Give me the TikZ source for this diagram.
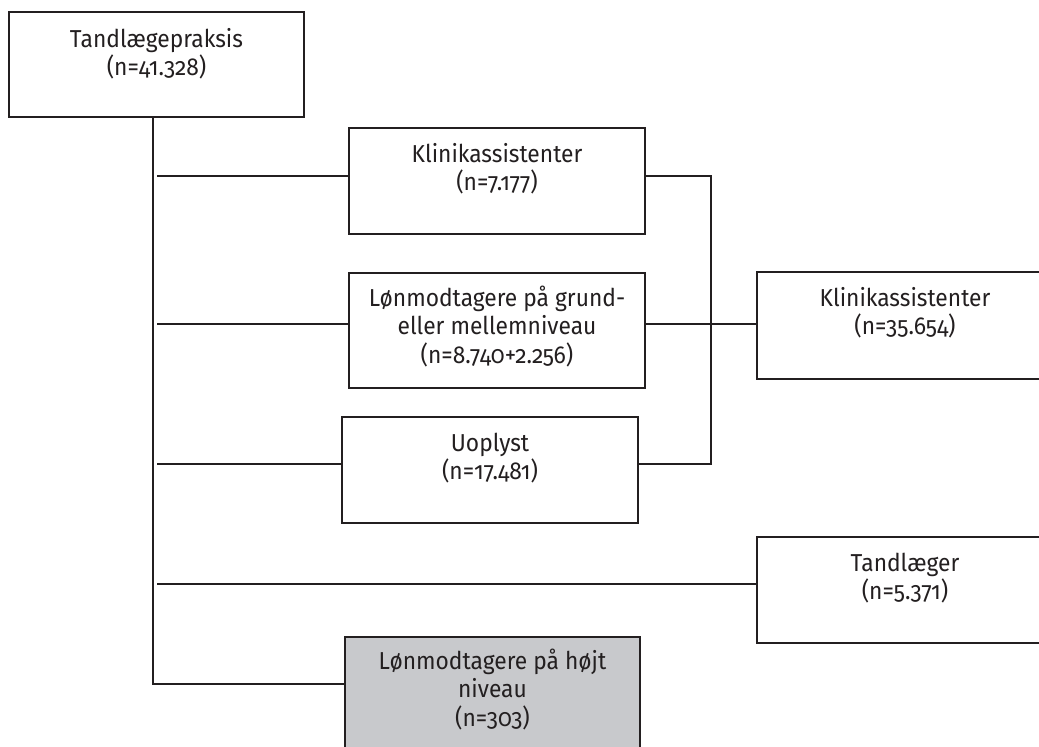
\documentclass[tikz,border=0pt]{standalone}
\usepackage{fontspec}
\setmainfont{Fira Sans}[Numbers=OldStyle, FakeStretch=0.93]
\usetikzlibrary{calc}
\definecolor{linec}{HTML}{231F20}
\definecolor{textc}{HTML}{231F20}
\definecolor{grayfill}{HTML}{C8C9CC}
\newcommand\firstline{\rule{0pt}{21pt}}
\tikzset{
  box/.style={draw=linec, line width=1.8pt, inner sep=0pt, fill=white},
  graybox/.style={box, fill=grayfill},
  lbl/.style={anchor=north, align=center, inner sep=0pt, font=\fontsize{24.5}{28.5}\selectfont, text=textc},
  conn/.style={draw=linec, line width=1.8pt},
}
\begin{document}
\begin{tikzpicture}[x=1pt,y=-1pt]
\useasboundingbox (0,0) rectangle (1039,747);
\clip (0,0) rectangle (1039,747);
% boxes
\node[box, minimum width=295pt, minimum height=105pt] (tp) at (156.5,64.5) {};
\node[box, minimum width=296pt, minimum height=106pt] (k1) at (497,181) {};
\node[box, minimum width=296pt, minimum height=115pt] (l1) at (497,330.5) {};
\node[box, minimum width=296pt, minimum height=106pt] (u1) at (490,470) {};
\node[graybox, minimum width=295pt, minimum height=115pt] (g1) at (492.5,694.5) {};
\node[box, minimum width=296pt, minimum height=107pt] (k2) at (905,325.5) {};
\node[box, minimum width=296pt, minimum height=106pt] (t2) at (905,590) {};
% labels
\node[lbl] (tpt) at ($(tp.north)+(0,15)$) {\firstline Tandlægepraksis\\(n=41.328)};
\node[lbl] (k1t) at ($(k1.north)+(0,14)$) {\firstline Klinikassistenter\\(n=7.177)};
\node[lbl] (l1t) at ($(l1.north)+(0,13)$) {\firstline Lønmodtagere på grund-\\eller mellemniveau\\(n=8.740+2.256)};
\node[lbl] (u1t) at ($(u1.north)+(0,14)$) {\firstline Uoplyst\\(n=17.481)};
\node[lbl] (g1t) at ($(g1.north)+(0,12)$) {\firstline Lønmodtagere på højt\\niveau\\(n=303)};
\node[lbl] (k2t) at ($(k2.north)+(0,14)$) {\firstline Klinikassistenter\\(n=35.654)};
\node[lbl] (t2t) at ($(t2.north)+(0,14)$) {\firstline Tandlæger\\(n=5.371)};
% connector points
\coordinate (tr) at ($(tp.south)+(-3.5,0)$);
\coordinate (bk1) at ($(k1.west)+(0,-5)$);
\coordinate (bl1) at ($(l1.west)+(0,-6.5)$);
\coordinate (bu1) at ($(u1.west)+(0,-6)$);
\coordinate (bt2) at ($(t2.west)+(0,-6)$);
\coordinate (bg1) at ($(g1.west)+(0,-10.5)$);
\coordinate (ek1) at ($(k1.east)+(0,-5)$);
\coordinate (el1) at ($(l1.east)+(0,-6.5)$);
\coordinate (eu1) at ($(u1.east)+(0,-6)$);
\coordinate (wk2) at (k2.west |- el1);
% trunk and branches
\draw[conn] (tr) |- (bg1);
\foreach \b in {bk1,bl1,bu1,bt2} \draw[conn] ($(tr |- \b)+(4,0)$) -- (\b);
% bracket
\draw[conn] (ek1) -- ++(65,0) |- (eu1);
\draw[conn] (el1) -- (wk2);
\end{tikzpicture}
\end{document}
